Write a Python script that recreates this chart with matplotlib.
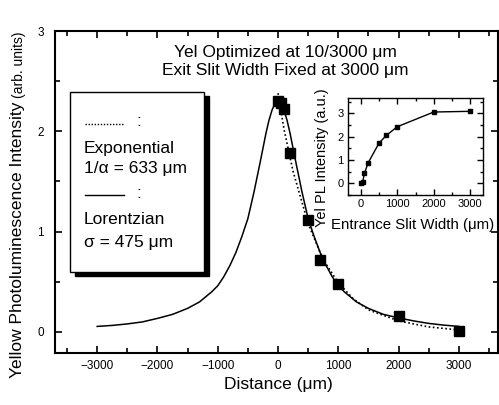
import matplotlib
matplotlib.use('Agg')
import matplotlib.pyplot as plt
from matplotlib.patches import Rectangle
from matplotlib.lines import Line2D
from matplotlib.ticker import MultipleLocator

plt.rcParams['font.family'] = ['Liberation Sans', 'DejaVu Sans']

# measured PL intensity vs distance
dist = [0, 50, 100, 200, 500, 700, 1000, 2000, 3000]
pl = [2.30, 2.28, 2.22, 1.78, 1.12, 0.72, 0.48, 0.16, 0.01]

# Lorentzian fit
lor_x = [-3000, -2750, -2500, -2250, -2000, -1750, -1500, -1300, -1100, -1000,
         -900, -800, -700, -600, -500, -400, -300, -200, -150, -100, -50, 0,
         50, 100, 150, 200, 300, 400, 500, 600, 700, 800, 900, 1000, 1100,
         1300, 1500, 1750, 2000, 2250, 2500, 2750, 3000]
lor_y = [0.055, 0.065, 0.08, 0.10, 0.135, 0.175, 0.235, 0.30, 0.40, 0.46,
         0.55, 0.66, 0.79, 0.95, 1.13, 1.39, 1.68, 1.98, 2.11, 2.21, 2.28, 2.31,
         2.28, 2.21, 2.11, 1.98, 1.68, 1.39, 1.13, 0.95, 0.79, 0.66, 0.55, 0.46, 0.40,
         0.30, 0.235, 0.175, 0.14, 0.11, 0.085, 0.068, 0.055]

# exponential fit
exp_x = [0, 100, 250, 500, 750, 1000, 1250, 1500, 2000, 2500, 3000]
exp_y = [2.38, 2.02, 1.60, 1.08, 0.72, 0.49, 0.33, 0.22, 0.11, 0.05, 0.02]

# inset: PL vs entrance slit width
slit = [10, 50, 100, 200, 500, 700, 1000, 2000, 3000]
slit_pl = [0.0, 0.05, 0.42, 0.87, 1.72, 2.05, 2.42, 3.05, 3.08]

W, H = 499, 405
fig = plt.figure(figsize=(W / 100, H / 100), dpi=100)


def fx(px):
    return px / W


def fy(py):
    return 1 - py / H


ax = fig.add_axes([fx(55), fy(353), fx(498) - fx(55), fy(31) - fy(353)])
ax.plot(lor_x, lor_y, color='black', lw=1.1)
ax.plot(exp_x, exp_y, color='black', lw=1.2, linestyle=(0, (1, 1.5)))
ax.plot(dist, pl, 's', color='black', ms=6.5, zorder=5)
ax.set_xlim(-3700, 3650)
ax.set_ylim(-0.21, 3.0)
ax.xaxis.set_minor_locator(MultipleLocator(500))
ax.yaxis.set_major_locator(MultipleLocator(1))
ax.yaxis.set_minor_locator(MultipleLocator(0.5))
ax.set_xticks([-3000, -2000, -1000, 0, 1000, 2000, 3000])
ax.tick_params(which='both', direction='in', top=True, right=True, width=1.2,
               labelsize=8.5)
ax.tick_params(which='major', length=5, pad=5)
ax.tick_params(which='minor', length=3.5)
ax.tick_params(axis='y', pad=8)
for s in ax.spines.values():
    s.set_linewidth(1.5)

fig.text(fx(278), fy(384), 'Distance (\u03bcm)', ha='center', va='center',
         fontsize=12.5)

# y label: large main part + smaller bracket part
t1 = fig.text(fx(18), fy(378), 'Yellow Photoluminescence Intensity',
              rotation=90, ha='center', va='bottom', fontsize=12.5)
fig.canvas.draw()
bb = t1.get_window_extent()
fig.text(fx(18) + 0.002, (bb.y1 + 4) / H, '(arb. units)', rotation=90,
         ha='center', va='bottom', fontsize=10)

fig.text(fx(285), fy(52), 'Yel Optimized at 10/3000 \u03bcm', ha='center',
         va='center', fontsize=12.5)
fig.text(fx(285), fy(71), 'Exit Slit Width Fixed at 3000 \u03bcm', ha='center',
         va='center', fontsize=12.5)

# legend box with shadow
fig.patches.append(Rectangle((fx(75), fy(276)), fx(204) - fx(70), fy(92) - fy(272),
                             transform=fig.transFigure, facecolor='black',
                             edgecolor='black', zorder=3))
fig.patches.append(Rectangle((fx(70), fy(272)), fx(204) - fx(70), fy(92) - fy(272),
                             transform=fig.transFigure, facecolor='white',
                             edgecolor='black', lw=1.0, zorder=4))
fig.lines.append(Line2D([fx(85), fx(124)], [fy(124), fy(124)],
                        transform=fig.transFigure, color='black', lw=1.0,
                        linestyle=(0, (1, 1.2)), zorder=5))
fig.lines.append(Line2D([fx(85), fx(124)], [fy(195), fy(195)],
                        transform=fig.transFigure, color='black', lw=1.0,
                        zorder=5))
leg_font = 12.5
fig.text(fx(136), fy(122), ':', ha='left', va='center', fontsize=leg_font, zorder=6)
fig.text(fx(136), fy(193), ':', ha='left', va='center', fontsize=leg_font, zorder=6)
fig.text(fx(84), fy(148), 'Exponential', ha='left', va='center', fontsize=leg_font, zorder=6)
fig.text(fx(84), fy(169), '1/\u03b1 = 633 \u03bcm', ha='left', va='center', fontsize=leg_font, zorder=6)
fig.text(fx(84), fy(220), 'Lorentzian', ha='left', va='center', fontsize=leg_font, zorder=6)
fig.text(fx(84), fy(242), '\u03c3 = 475 \u03bcm', ha='left', va='center', fontsize=leg_font, zorder=6)

# inset
ins = fig.add_axes([fx(348), fy(195), fx(483) - fx(348), fy(98) - fy(195)])
ins.plot(slit, slit_pl, '-s', color='black', ms=3.5, lw=1.0)
ins.set_xlim(-350, 3350)
ins.set_ylim(-0.5, 3.65)
ins.xaxis.set_major_locator(MultipleLocator(1000))
ins.xaxis.set_minor_locator(MultipleLocator(500))
ins.yaxis.set_major_locator(MultipleLocator(1))
ins.yaxis.set_minor_locator(MultipleLocator(0.5))
ins.tick_params(which='both', direction='in', top=True, right=True, width=1.0,
                labelsize=8)
ins.tick_params(which='major', length=4, pad=3)
ins.tick_params(which='minor', length=2.5)
ins.tick_params(axis='y', pad=3)
for s in ins.spines.values():
    s.set_linewidth(1.0)
fig.text(fx(413), fy(225), 'Entrance Slit Width (\u03bcm)', ha='center',
         va='center', fontsize=10.8)
fig.text(fx(322), fy(158), 'Yel PL Intensity (a.u.)', ha='center',
         va='center', rotation=90, fontsize=10.5)

fig.savefig('out.png', dpi=100)
